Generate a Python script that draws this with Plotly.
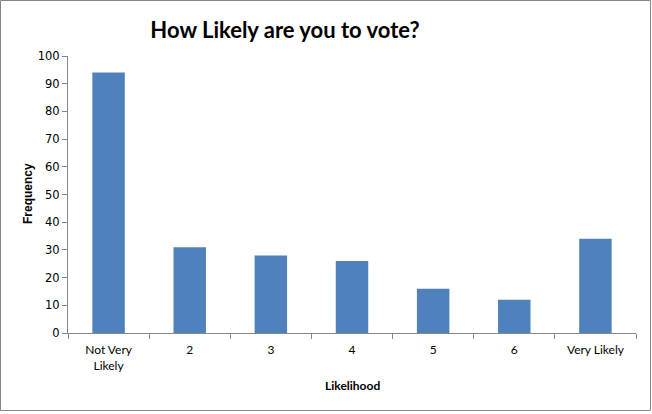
import plotly.graph_objects as go

# Data
categories = ["Not Very<br>Likely", "2", "3", "4", "5", "6", "Very Likely"]
frequency = [94, 31, 28, 26, 16, 12, 34]

W, H = 652, 414
L, R, T, B = 68, 16, 56, 81
PW, PH = W - L - R, H - T - B

def px_x(p):
    # pixel -> paper x
    return (p - L) / PW

def px_y(p):
    # pixel (from top) -> paper y
    return (H - B - p) / PH

fig = go.Figure()
fig.add_trace(go.Bar(
    x=categories,
    y=frequency,
    marker=dict(color="#4F81BD", line=dict(width=0)),
    width=0.4,
    showlegend=False,
))

axis_grey = "#868686"

fig.update_layout(
    width=W,
    height=H,
    margin=dict(l=L, r=R, t=T, b=B),
    paper_bgcolor="white",
    plot_bgcolor="white",
    font=dict(family="Lato", color="#000000", size=12),
    title=dict(
        text="<b>How Likely are you to vote?</b>",
        font=dict(family="Lato", size=22, color="#000000"),
        x=285 / W, xref="container", xanchor="center",
        y=1 - 30 / H, yref="container", yanchor="middle",
    ),
    xaxis=dict(
        showline=True, linecolor=axis_grey, linewidth=1,
        ticks="outside", tickson="boundaries", ticklen=5, tickcolor=axis_grey,
        ticklabelstandoff=6,
        showgrid=False, zeroline=False,
        tickfont=dict(family="Lato", size=12, color="#000000"),
    ),
    yaxis=dict(
        range=[0, 100], dtick=10,
        showline=True, linecolor=axis_grey, linewidth=1,
        ticks="outside", ticklen=5, tickcolor=axis_grey,
        showgrid=False, zeroline=False,
        tickfont=dict(family="DejaVu Sans", size=11.5, color="#000000"),
    ),
    shapes=[dict(
        type="rect", xref="paper", yref="paper",
        x0=px_x(0.5), x1=px_x(650.5), y0=px_y(410.5), y1=px_y(0.5),
        line=dict(color=axis_grey, width=1), layer="below",
    )],
    annotations=[
        dict(text="<b>Frequency</b>", xref="paper", yref="paper",
             x=px_x(28), y=px_y(194), textangle=-90, showarrow=False,
             xanchor="center", yanchor="middle",
             font=dict(family="Liberation Sans", size=12)),
        dict(text="<b>Likelihood</b>", xref="paper", yref="paper",
             x=px_x(352), y=px_y(385), showarrow=False,
             xanchor="center", yanchor="middle",
             font=dict(family="Lato", size=12)),
    ],
)

# drop the default page margin so the chart sits at the window's corner
fig.write_html("out.html", config={"displayModeBar": False},
               post_script="document.body.style.margin='0';")
